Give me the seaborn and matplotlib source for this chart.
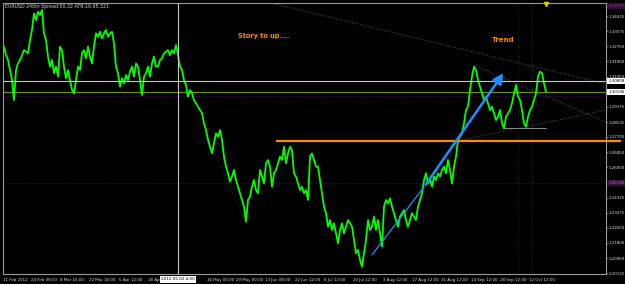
import numpy as np
import pandas as pd
import matplotlib
matplotlib.use("Agg")
import matplotlib.pyplot as plt
import matplotlib.transforms as mtransforms
import seaborn as sns

# ---- data (EURUSD 4h, Feb-Oct 2012) ----
price_feb_apr = [
    1.3272, 1.3225, 1.3198, 1.3142, 1.3086, 1.2975, 1.3142, 1.3179, 1.3198, 1.3225,
    1.3253, 1.3244, 1.3235, 1.3309, 1.3365, 1.3457, 1.3420, 1.3467, 1.3448, 1.3476,
    1.3346, 1.3309, 1.3216, 1.3161, 1.3198, 1.3124, 1.3161, 1.3105, 1.3272, 1.3253,
    1.3161, 1.3096, 1.3142, 1.3086, 1.3031, 1.3012, 1.3086, 1.3161, 1.3142, 1.3235,
    1.3253, 1.3207, 1.3272, 1.3216, 1.3179, 1.3272, 1.3346, 1.3327, 1.3355, 1.3318,
    1.3346, 1.3365, 1.3327, 1.3346, 1.3355, 1.3290, 1.3161, 1.3124, 1.3049, 1.3096,
    1.3068, 1.3114, 1.3086, 1.3133, 1.3161, 1.3105, 1.3179, 1.3161, 1.3086, 1.3003,
    1.3105, 1.3124, 1.3161, 1.3105, 1.3179, 1.3216, 1.3161, 1.3161, 1.3198, 1.3207,
    1.3235, 1.3244, 1.3253, 1.3225, 1.3253, 1.3235, 1.3281, 1.3225,
]
price_may_jul = [
    1.3161, 1.3142, 1.3086, 1.3059, 1.2994, 1.3031, 1.3012, 1.2975, 1.2957, 1.2938,
    1.2919, 1.2901, 1.2845, 1.2808, 1.2753, 1.2715, 1.2678, 1.2734, 1.2790, 1.2771,
    1.2808, 1.2753, 1.2660, 1.2604, 1.2567, 1.2521, 1.2549, 1.2586, 1.2530, 1.2493,
    1.2456, 1.2419, 1.2382, 1.2298, 1.2419, 1.2437, 1.2493, 1.2530, 1.2474, 1.2456,
    1.2586, 1.2549, 1.2511, 1.2623, 1.2641, 1.2604, 1.2493, 1.2567, 1.2586, 1.2623,
    1.2660, 1.2641, 1.2715, 1.2623, 1.2678, 1.2715, 1.2697, 1.2567, 1.2549, 1.2511,
    1.2474, 1.2493, 1.2456, 1.2474, 1.2419, 1.2660, 1.2678, 1.2641, 1.2604, 1.2604,
    1.2530, 1.2456, 1.2382, 1.2345, 1.2270, 1.2307, 1.2252, 1.2289, 1.2233, 1.2178,
    1.2252, 1.2289, 1.2233, 1.2270, 1.2307, 1.2289, 1.2270, 1.2196, 1.2122, 1.2141,
    1.2085, 1.2048, 1.2122, 1.2196, 1.2307, 1.2252, 1.2270, 1.2326, 1.2252, 1.2307,
    1.2233, 1.2159,
]
price_aug_oct = [
    1.2382, 1.2419, 1.2400, 1.2428, 1.2382, 1.2345, 1.2307, 1.2270, 1.2326, 1.2345,
    1.2363, 1.2307, 1.2270, 1.2307, 1.2345, 1.2326, 1.2307, 1.2382, 1.2419, 1.2456,
    1.2530, 1.2567, 1.2511, 1.2530, 1.2493, 1.2549, 1.2530, 1.2567, 1.2549, 1.2586,
    1.2604, 1.2567, 1.2641, 1.2586, 1.2511, 1.2604, 1.2660, 1.2753, 1.2771, 1.2790,
    1.2845, 1.2919, 1.2938, 1.3031, 1.3105, 1.3161, 1.3142, 1.3086, 1.3049, 1.3012,
    1.2975, 1.2994, 1.2957, 1.2919, 1.2938, 1.2901, 1.2864, 1.2882, 1.2919, 1.2845,
    1.2817, 1.2882, 1.2901, 1.2919, 1.2957, 1.3012, 1.3059, 1.2994, 1.2975, 1.2919,
    1.2845, 1.2827, 1.2882, 1.2919, 1.2938, 1.2975, 1.3012, 1.3105, 1.3133, 1.3124,
    1.3068, 1.3021,
]

date_labels = ["11 Feb 2012", "24 Feb 08:00", "8 Mar 16:00", "22 Mar 16:00", "5 Apr 12:00",
               "18 Apr 12:00", "16 May 00:00", "29 May 00:00", "13 Jun 08:00", "22 Jun 12:00",
               "6 Jul 12:00", "20 Jul 12:00", "3 Aug 12:00", "17 Aug 12:00", "31 Aug 12:00",
               "14 Sep 12:00", "28 Sep 12:00", "12 Oct 12:00"]
date_ticks = [-0.5, 13.5, 28, 42.5, 57.5, 72, 101.5, 116, 130.5, 145.5, 160, 174.5,
              189.5, 204, 218.5, 233.5, 248, 262.5]
price_ticks = [1.34425, 1.33575, 1.32750, 1.31900, 1.31050, 1.30200, 1.29375, 1.28525,
               1.27700, 1.26850, 1.26000, 1.25175, 1.24325, 1.23475, 1.22650, 1.21800,
               1.20950, 1.20125]

resistance_level = 1.2747
resistance_start = 136
crosshair_bar = 87
crosshair_price = 1.30808
crosshair_label = "2012.05.02 4:00"
bid_level = 1.30196
ask_level = 1.29974
purple_level = 1.25133
top_level = 1.34990

trend_upper = ([133.5, 301], [1.35148, 1.30641])
trend_channel = ([236, 301], [1.31643, 1.28527])
trend_lower = ([229, 301], [1.27526, 1.29195])
trend_faint1 = ([90, 121], [1.30697, 1.22907])
trend_faint2 = ([179, 229], [1.20682, 1.27526])
flat_line = ([250, 271], [1.28193, 1.28193])
vlines_bars = [257, 264]
arrow_thin = ([184, 210], [1.2113, 1.2491])
arrow_thick = ([210, 250.5], [1.2491, 1.3137])

prices = price_feb_apr + price_may_jul + price_aug_oct
df = pd.DataFrame({"bar": np.arange(len(prices)), "price": prices})

# ---- style ----
sns.set_theme(style="dark")
plt.rcParams.update({
    "figure.facecolor": "black", "axes.facecolor": "black",
    "axes.edgecolor": "#9a9a9a", "font.family": ["DejaVu Sans"],
})

W, H = 625, 284
fig = plt.figure(figsize=(W / 100, H / 100), dpi=100)
ax = fig.add_axes([3 / W, 10 / H, 603 / W, 271 / H])
ax.set_facecolor("black")

xmin, xmax = -0.5, 301
ymin, ymax = 1.2007, 1.3515

# dotted guide lines
for b in vlines_bars:
    ax.axvline(b, color="#3a3a3a", lw=0.6, ls=(0, (1, 2)), zorder=1)
ax.axhline(purple_level, color="#5a1060", lw=0.6, ls=(0, (1, 2)), zorder=1)
ax.axhline(ask_level, color="#6a1070", lw=0.6, ls=(0, (1, 2)), zorder=1)

for (xs, ys), c in [(trend_upper, "#4a4a4a"), (trend_channel, "#4a4a4a"),
                    (trend_lower, "#4a4a4a"), (trend_faint1, "#262626"),
                    (trend_faint2, "#262626")]:
    ax.plot(xs, ys, color=c, lw=0.8, ls=(0, (1, 1.5)), zorder=1)
ax.plot(*flat_line, color="#8a8a8a", lw=0.7, zorder=2)

# price line
sns.lineplot(data=df, x="bar", y="price", color="#00ff00", lw=1.3, ax=ax,
             zorder=3, estimator=None, sort=False)

# horizontal levels & crosshair
ax.axhline(bid_level, color="#6b8e23", lw=0.9, zorder=2)
ax.axhline(crosshair_price, color="#c8c8c8", lw=0.8, zorder=4)
ax.axvline(crosshair_bar, color="#c8c8c8", lw=0.8, zorder=4)
ax.plot([resistance_start, 308.5], [resistance_level, resistance_level],
        color="#ff8c00", lw=1.6, zorder=5, clip_on=False, solid_capstyle="butt")

# blue arrow
ax.plot(*arrow_thin, color="#1e90ff", lw=0.9, zorder=6)
ax.annotate("", xy=(arrow_thick[0][1], arrow_thick[1][1]),
            xytext=(arrow_thick[0][0], arrow_thick[1][0]),
            arrowprops=dict(arrowstyle="-|>,head_length=0.5,head_width=0.25",
                            color="#1e90ff", lw=1.8), zorder=6)

# marker at top
ax.plot([271], [1.3510], marker="v", ms=3, color="#c8d400", clip_on=False, zorder=6)

# annotations
ax.text(117, 1.3330, "Story to up....", color="#ff8c00", fontsize=4.8,
        fontweight="bold", va="center", ha="left")
ax.text(244, 1.3310, "Trend", color="#ff8c00", fontsize=5,
        fontweight="bold", va="center", ha="left")
ax.text(0.003, 0.995, "EURUSD 240m Spread:50.32 ATR:16.95.321", transform=ax.transAxes,
        color="#d0d0d0", fontsize=3.4, va="top", ha="left")

ax.set_xlim(xmin, xmax)
ax.set_ylim(ymin, ymax)

# axes ticks
ax.set_xticks(date_ticks)
ax.set_xticklabels(date_labels, ha="left", fontsize=2.9, color="#e0e0e0")
ax.set_yticks(price_ticks)
ax.set_yticklabels([f"{v:.5f}" for v in price_ticks], fontsize=2.9, color="#e0e0e0")
ax.yaxis.tick_right()
ax.tick_params(axis="x", length=2, width=0.5, color="#9a9a9a", pad=0.8, direction="out")
ax.tick_params(axis="y", length=1.2, width=0.5, color="#9a9a9a", pad=0.6, direction="out")
ax.set_xlabel("")
ax.set_ylabel("")
for s in ax.spines.values():
    s.set_color("#9a9a9a")
    s.set_linewidth(0.8)
ax.grid(False)

# right-axis value boxes
trans = mtransforms.blended_transform_factory(ax.transAxes, ax.transData)
for val, fc, tc in [(crosshair_price, "white", "black"), (bid_level, "white", "black"),
                    (top_level, "#3a0a40", "#7a3a80"), (purple_level, "#3a0a40", "#b080c0")]:
    ax.text(1.004, val, f"{val:.5f}", transform=trans, fontsize=2.9, color=tc,
            va="center", ha="left", zorder=10, clip_on=False,
            bbox=dict(boxstyle="square,pad=0.25", fc=fc, ec="none"))

# crosshair date box
transx = mtransforms.blended_transform_factory(ax.transData, ax.transAxes)
ax.text(crosshair_bar, -0.02, crosshair_label, transform=transx, fontsize=3.0,
        color="black", ha="center", va="center", zorder=10, clip_on=False,
        bbox=dict(boxstyle="square,pad=0.3", fc="white", ec="none"))

fig.savefig("out.png", dpi=100, facecolor="black")
